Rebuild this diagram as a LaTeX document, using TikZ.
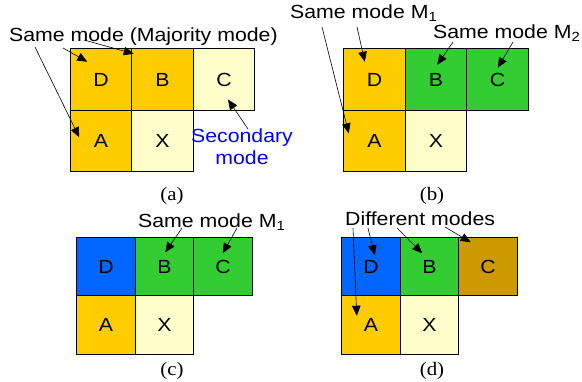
\documentclass[tikz,border=0pt]{standalone}
\usepackage{fontspec}
\setmainfont{Liberation Sans}[FakeStretch=1.12]
\newfontfamily\capfont{Liberation Serif}[FakeStretch=1.1]
\usetikzlibrary{arrows.meta, positioning}
\definecolor{ModeGold}{HTML}{FFCC00}
\definecolor{ModeCream}{HTML}{FFFFCC}
\definecolor{ModeGreen}{HTML}{33CC33}
\definecolor{ModeBlue}{HTML}{0066FF}
\definecolor{ModeOchre}{HTML}{CC9900}
\definecolor{NoteBlue}{HTML}{0000FF}
\newcommand{\modefont}{\fontsize{19}{22}\selectfont}
\newcommand{\capsize}{\capfont\fontsize{19}{22}\selectfont}
\tikzset{
  cell/.style={draw=black, line width=0.9pt, minimum width=#1, minimum height=#1, inner sep=0pt, outer sep=0pt, font=\modefont},
  note/.style={inner sep=0pt, anchor=base west, font=\modefont},
  caption/.style={inner sep=0pt, anchor=base, font=\capsize},
  pointer/.style={-{Triangle[length=10pt, width=8.5pt]}, line width=0.6pt, draw=black}
}

\begin{document}
\begin{tikzpicture}[x=1pt, y=-1pt]
\useasboundingbox (0,0) rectangle (582,381);

% (a) majority mode
\node[cell=61.5pt, fill=ModeGold] (aD) at (101,79.5) {D};
\node[cell=61.5pt, fill=ModeGold, right=0pt of aD] (aB) {B};
\node[cell=61.5pt, fill=ModeCream, right=0pt of aB] (aC) {C};
\node[cell=61.5pt, fill=ModeGold, below=0pt of aD] (aA) {A};
\node[cell=61.5pt, fill=ModeCream, right=0pt of aA] (aX) {X};
\node[note] (aSame) at (9,41) {Same mode (Majority mode)};
\node[note, anchor=north, align=center, text=NoteBlue] (aSec) at (242,129) {Secondary\\mode};
\draw[pointer] ([shift={(26pt,-6pt)}]aSame.base west) -- ([shift={(9pt,-27pt)}]aA.north west);
\draw[pointer] ([shift={(54pt,-7pt)}]aSame.base west) -- ([shift={(17pt,-13pt)}]aD.north west);
\draw[pointer] ([shift={(75pt,1pt)}]aSame.base west) -- ([shift={(2pt,-5pt)}]aB.north west);
\draw[pointer] ([xshift=6pt]aSec.north) -- ([shift={(4pt,-20pt)}]aC.center);
\node[caption] (aCap) at (172,200) {(a)};

% (b) two modes
\node[cell=61.5pt, fill=ModeGold] (bD) at (374.5,79.5) {D};
\node[cell=61.5pt, fill=ModeGreen, right=0pt of bD] (bB) {B};
\node[cell=61.5pt, fill=ModeGreen, right=0pt of bB] (bC) {C};
\node[cell=61.5pt, fill=ModeGold, below=0pt of bD] (bA) {A};
\node[cell=61.5pt, fill=ModeCream, right=0pt of bA] (bX) {X};
\node[note] (bSame1) at (290,18) {Same mode M\textsubscript{1}};
\node[note] (bSame2) at (433,38) {Same mode M\textsubscript{2}};
\draw[pointer] ([shift={(32pt,-9pt)}]bSame1.base west) -- ([shift={(5pt,-23pt)}]bA.north west);
\draw[pointer] ([shift={(67pt,-9pt)}]bSame1.base west) -- ([shift={(21pt,-13pt)}]bD.north west);
\draw[pointer] ([shift={(20pt,-4pt)}]bSame2.base west) -- ([shift={(32pt,-16pt)}]bB.north west);
\draw[pointer] ([shift={(80pt,-4pt)}]bSame2.base west) -- ([shift={(31pt,-19pt)}]bC.north west);
\node[caption] (bCap) at (432,200) {(b)};

% (c) same mode on the right
\node[cell=58.5pt, fill=ModeBlue] (cD) at (106,266.5) {D};
\node[cell=58.5pt, fill=ModeGreen, right=0pt of cD] (cB) {B};
\node[cell=58.5pt, fill=ModeGreen, right=0pt of cB] (cC) {C};
\node[cell=58.5pt, fill=ModeGold, below=0pt of cD] (cA) {A};
\node[cell=58.5pt, fill=ModeCream, right=0pt of cA] (cX) {X};
\node[note] (cSame) at (138,227) {Same mode M\textsubscript{1}};
\draw[pointer] ([shift={(44pt,-1pt)}]cSame.base west) -- ([shift={(30pt,-15pt)}]cB.north west);
\draw[pointer] ([shift={(99pt,-1pt)}]cSame.base west) -- ([shift={(29pt,-16pt)}]cC.north west);
\node[caption] (cCap) at (172,375) {(c)};

% (d) all different
\node[cell=58.5pt, fill=ModeBlue] (dD) at (371,266.5) {D};
\node[cell=58.5pt, fill=ModeGreen, right=0pt of dD] (dB) {B};
\node[cell=58.5pt, fill=ModeOchre, right=0pt of dB] (dC) {C};
\node[cell=58.5pt, fill=ModeGold, below=0pt of dD] (dA) {A};
\node[cell=58.5pt, fill=ModeCream, right=0pt of dA] (dX) {X};
\node[note] (dDiff) at (345,225) {Different modes};
\draw[pointer] ([shift={(8pt,-3pt)}]dDiff.base west) -- ([shift={(15pt,-20pt)}]dA.north west);
\draw[pointer] ([shift={(23pt,-3pt)}]dDiff.base west) -- ([shift={(33pt,-18pt)}]dD.north west);
\draw[pointer] ([shift={(52pt,-3pt)}]dDiff.base west) -- ([shift={(22pt,-16pt)}]dB.north west);
\draw[pointer] ([shift={(100pt,-2pt)}]dDiff.base west) -- ([shift={(12pt,-5pt)}]dC.north west);
\node[caption] (dCap) at (432,375) {(d)};
\end{tikzpicture}
\end{document}
